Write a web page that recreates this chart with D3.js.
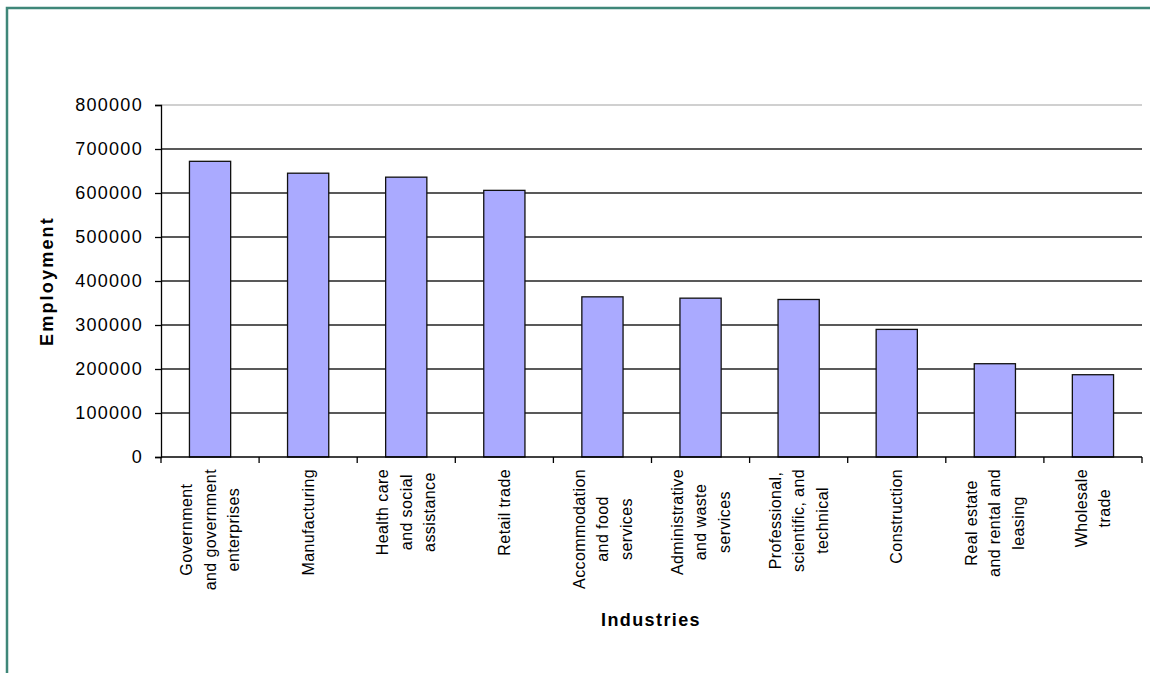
<!DOCTYPE html>
<html>
<head>
<meta charset="utf-8">
<script src="https://cdn.jsdelivr.net/npm/d3@7"></script>
<style>
  body { margin: 0; background: #fff; }
  svg { display: block; font-family: "Liberation Sans", Arial, sans-serif; }
</style>
</head>
<body>
<div id="viz"></div>
<script>
var categories = [
  "Government\nand government\nenterprises",
  "Manufacturing",
  "Health care\nand social\nassistance",
  "Retail trade",
  "Accommodation\nand food\nservices",
  "Administrative\nand waste\nservices",
  "Professional,\nscientific, and\ntechnical",
  "Construction",
  "Real estate\nand rental and\nleasing",
  "Wholesale\ntrade"
];
var employment = [672000, 645000, 636000, 606000, 364000, 361000, 358000, 290000, 212000, 187000];
var yTicks = [0, 100000, 200000, 300000, 400000, 500000, 600000, 700000, 800000];

var width = 1150,
    height = 673;

var margin = {left: 161, right: 8, top: 105, bottom: 216};
var plotW = width - margin.left - margin.right,
    plotH = height - margin.top - margin.bottom;

var svg = d3.select("#viz").append("svg")
    .attr("width", width)
    .attr("height", height);

// frame (only top and left edges show)
svg.append("path")
    .attr("d", "M7,673 V8 H1150")
    .attr("fill", "none")
    .attr("stroke", "#3f8779")
    .attr("stroke-width", 2.5);

var g = svg.append("g")
    .attr("transform", "translate(" + margin.left + "," + margin.top + ")");

var x = d3.scaleBand()
    .domain(categories)
    .range([0, plotW])
    .paddingInner(0.58)
    .paddingOuter(0.29);

var y = d3.scaleLinear()
    .domain([0, 800000])
    .range([plotH, 0]);

// gridlines
g.append("g")
    .selectAll("line")
    .data(yTicks.filter(function(d) { return d > 0; }))
  .enter().append("line")
    .attr("x1", 0)
    .attr("x2", plotW)
    .attr("y1", function(d) { return y(d); })
    .attr("y2", function(d) { return y(d); })
    .attr("stroke", function(d) { return d === 800000 ? "#c0c0c0" : "#222"; })
    .attr("stroke-width", 1.3);

// bars
g.selectAll("rect.bar")
    .data(employment)
  .enter().append("rect")
    .attr("class", "bar")
    .attr("x", function(d, i) { return x(categories[i]); })
    .attr("y", function(d) { return y(d); })
    .attr("width", x.bandwidth())
    .attr("height", function(d) { return plotH - y(d); })
    .attr("fill", "#aaaaff")
    .attr("stroke", "#111")
    .attr("stroke-width", 1.3);

// y axis
var yAxis = g.append("g")
    .call(d3.axisLeft(y).tickValues(yTicks).tickSize(6).tickPadding(12)
      .tickFormat(function(d) { return d; }));
yAxis.select(".domain").attr("stroke", "#000").attr("stroke-width", 1.3);
yAxis.selectAll(".tick line").attr("stroke", "#000").attr("stroke-width", 1.3);
yAxis.selectAll(".tick text")
    .attr("fill", "#000")
    .style("font-size", "18px")
    .style("letter-spacing", "1.3px");

// x axis line and category ticks
g.append("line")
    .attr("x1", 0).attr("x2", plotW)
    .attr("y1", plotH).attr("y2", plotH)
    .attr("stroke", "#000").attr("stroke-width", 1.3);

var bounds = d3.range(categories.length + 1).map(function(i) { return i * x.step(); });
g.append("g").selectAll("line")
    .data(bounds)
  .enter().append("line")
    .attr("x1", function(d) { return d; })
    .attr("x2", function(d) { return d; })
    .attr("y1", plotH)
    .attr("y2", plotH + 6)
    .attr("stroke", "#000")
    .attr("stroke-width", 1.3);

// category labels, rotated, lines centred on each other
var lineH = 23.5;
var labels = g.append("g").selectAll("g")
    .data(categories)
  .enter().append("g")
    .attr("transform", function(d) {
      return "translate(" + (x(d) + x.bandwidth() / 2) + "," + (plotH + 12) + ") rotate(-90)";
    });

labels.each(function(d) {
  var lines = d.split("\n");
  var t = d3.select(this).append("text")
      .attr("text-anchor", "middle")
      .style("font-size", "16px")
      .style("letter-spacing", "0.4px")
      .attr("fill", "#000");
  lines.forEach(function(l, i) {
    t.append("tspan")
      .attr("x", 0)
      .attr("y", (i - (lines.length - 1) / 2) * lineH)
      .attr("dy", "0.35em")
      .text(l);
  });
  var maxLen = d3.max(t.selectAll("tspan").nodes(), function(n) { return n.getComputedTextLength(); });
  t.selectAll("tspan").attr("x", -maxLen / 2);
});

// axis titles
svg.append("text")
    .attr("transform", "translate(53," + (margin.top + plotH / 2) + ") rotate(-90)")
    .attr("text-anchor", "middle")
    .style("font-size", "18px")
    .style("font-weight", "bold")
    .style("letter-spacing", "2.2px")
    .text("Employment");

svg.append("text")
    .attr("x", 651)
    .attr("y", 626)
    .attr("text-anchor", "middle")
    .style("font-size", "18px")
    .style("font-weight", "bold")
    .style("letter-spacing", "1.4px")
    .text("Industries");
</script>
</body>
</html>
